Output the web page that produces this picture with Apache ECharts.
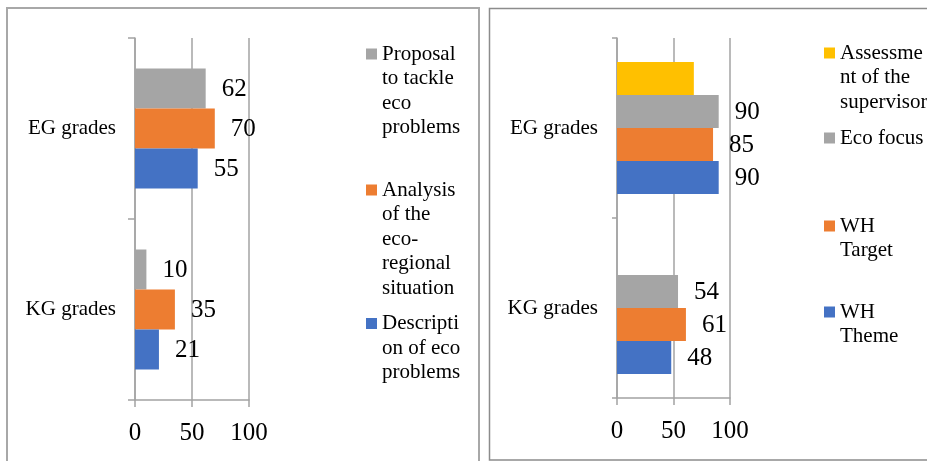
<!DOCTYPE html>
<html>
<head>
<meta charset="utf-8">
<script src="https://cdn.jsdelivr.net/npm/echarts@6/dist/echarts.min.js"></script>
<style>
  html, body { margin: 0; padding: 0; background: #ffffff; }
  #chart { width: 927px; height: 461px; }
</style>
</head>
<body>
<div id="chart"></div>
<script>
// Categories, listed bottom-to-top as the category axis draws them
const categories = ['KG grades', 'EG grades'];
const xTicks = [0, 50, 100];

// Left panel: project work scores
const proposalValues = [10, 62];
const analysisValues = [35, 70];
const descriptionValues = [21, 55];

// Right panel: final assessment scores (no supervisor score for KG)
const assessmentValues = [null, 68];
const ecoFocusValues = [54, 90];
const whTargetValues = [61, 85];
const whThemeValues = [48, 90];

const leftNames = [
  'Proposal to tackle eco problems',
  'Analysis of the eco-regional situation',
  'Description of eco problems'
];
const rightNames = [
  'Assessment of the supervisor',
  'Eco focus',
  'WH Target',
  'WH Theme'
];
// Legend text as it wraps in the narrow legend column
const legendText = {
  'Proposal to tackle eco problems': 'Proposal\nto tackle\neco\nproblems',
  'Analysis of the eco-regional situation': 'Analysis\nof the\neco-\nregional\nsituation',
  'Description of eco problems': 'Descripti\non of eco\nproblems',
  'Assessment of the supervisor': 'Assessme\nnt of the\nsupervisor',
  'Eco focus': 'Eco focus',
  'WH Target': 'WH\nTarget',
  'WH Theme': 'WH\nTheme'
};

const COLORS = {
  blue: '#4472C4',
  orange: '#ED7D31',
  gray: '#A5A5A5',
  yellow: '#FFC000'
};
const LINE = '#a3a3a3';
const FONT = '"Liberation Serif", "Times New Roman", serif';

const grids = [
  { left: 135, top: 38, width: 114, height: 362 },
  { left: 617, top: 38, width: 113, height: 360 }
];

function makeXAxis(gridIndex) {
  return {
    type: 'value', gridIndex: gridIndex,
    min: xTicks[0], max: xTicks[xTicks.length - 1], interval: xTicks[1] - xTicks[0],
    axisLine: { show: true, lineStyle: { color: LINE, width: 1.5 } },
    axisTick: { show: true, length: 7, lineStyle: { color: LINE, width: 1.5 } },
    splitLine: { show: true, lineStyle: { color: LINE, width: 1.5 } },
    axisLabel: { color: '#000', fontSize: 25, fontFamily: FONT, margin: 21 }
  };
}
function makeYAxis(gridIndex, tickLen) {
  return {
    type: 'category', gridIndex: gridIndex, data: categories,
    axisLine: { show: true, lineStyle: { color: LINE, width: 1.5 } },
    axisTick: { show: true, length: tickLen, lineStyle: { color: LINE, width: 1.5 } },
    axisLabel: { color: '#000', fontSize: 21, fontFamily: FONT, margin: 19 }
  };
}

function barSeries(name, values, color, axisIndex, width, showLabel) {
  return {
    type: 'bar', name: name, data: values,
    xAxisIndex: axisIndex, yAxisIndex: axisIndex,
    barWidth: width, barGap: '0%',
    itemStyle: { color: color },
    label: {
      show: showLabel, position: 'right', distance: 16, offset: [0, 1],
      color: '#000', fontSize: 25, fontFamily: FONT
    }
  };
}

// One legend block per entry so each sits in its own slot.
// Blank lines are put in front of the text so that the marker,
// which is centred on the text block, lines up with the first line.
const LINE_H = 24.5;
function legendEntry(name, left, iconCenterY) {
  const lines = legendText[name].split('\n').length;
  const blockLines = 2 * lines - 1;
  return {
    data: [name], orient: 'vertical',
    left: left, top: iconCenterY - blockLines * LINE_H / 2, padding: 0,
    itemWidth: 11, itemHeight: 11, itemGap: 0,
    icon: 'rect',
    formatter: function (n) {
      return '\n'.repeat(lines - 1) + legendText[n];
    },
    textStyle: {
      color: '#000', fontSize: 21, fontFamily: FONT, lineHeight: LINE_H
    }
  };
}

const option = {
  backgroundColor: '#ffffff',
  animation: false,
  grid: grids,
  xAxis: [makeXAxis(0), makeXAxis(1)],
  yAxis: [makeYAxis(0, 7), makeYAxis(1, 5)],
  legend: [
    legendEntry(leftNames[0], 366, 54),
    legendEntry(leftNames[1], 366, 190),
    legendEntry(leftNames[2], 366, 323.5),
    legendEntry(rightNames[0], 824, 53),
    legendEntry(rightNames[1], 824, 138),
    legendEntry(rightNames[2], 824, 226),
    legendEntry(rightNames[3], 824, 312)
  ],
  series: [
    barSeries(leftNames[0], proposalValues, COLORS.gray, 0, 40, true),
    barSeries(leftNames[1], analysisValues, COLORS.orange, 0, 40, true),
    barSeries(leftNames[2], descriptionValues, COLORS.blue, 0, 40, true),
    barSeries(rightNames[0], assessmentValues, COLORS.yellow, 1, 33, false),
    barSeries(rightNames[1], ecoFocusValues, COLORS.gray, 1, 33, true),
    barSeries(rightNames[2], whTargetValues, COLORS.orange, 1, 33, true),
    barSeries(rightNames[3], whThemeValues, COLORS.blue, 1, 33, true)
  ],
  graphic: [
    // panel frames
    {
      type: 'rect', silent: true, z: -1,
      shape: { x: 7, y: 8, width: 472, height: 470 },
      style: { fill: 'none', stroke: '#a8a8a8', lineWidth: 2 }
    },
    {
      type: 'rect', silent: true, z: -1,
      shape: { x: 489.5, y: 8.5, width: 470, height: 451.5 },
      style: { fill: 'none', stroke: '#8c8c8c', lineWidth: 1.5 }
    }
  ]
};

const chart = echarts.init(document.getElementById('chart'), null, { renderer: 'canvas' });
chart.setOption(option);
</script>
</body>
</html>
